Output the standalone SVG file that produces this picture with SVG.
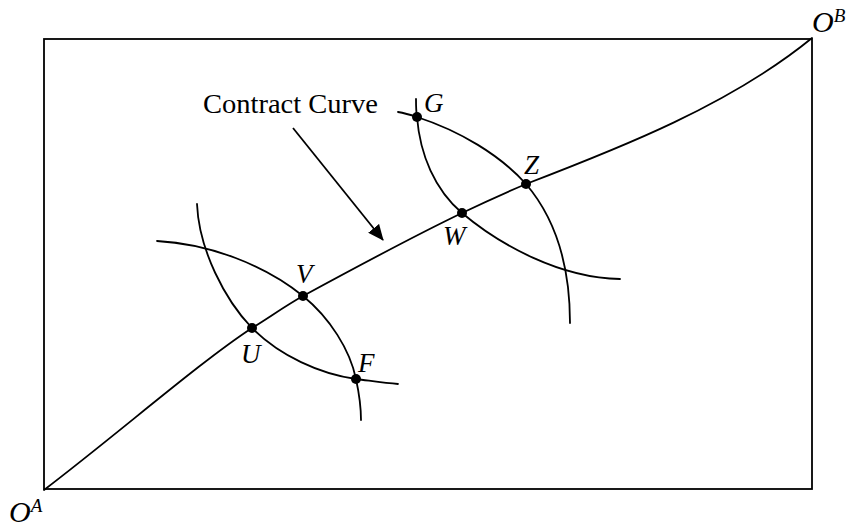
<svg xmlns="http://www.w3.org/2000/svg" width="850" height="529" viewBox="0 0 850 529">
<style>
.ln{fill:none;stroke:#000;stroke-width:1.8;stroke-linecap:round;stroke-linejoin:round}
.lbl{font-family:"Liberation Serif",serif;font-style:italic;font-size:27px;fill:#000}
.org{font-family:"Liberation Serif",serif;font-style:italic;font-size:30px;fill:#000}
.sup{font-size:19px}
.dot{fill:#000}
</style>
<defs>
<marker id="ah" markerWidth="16" markerHeight="14" refX="15" refY="7" orient="auto" markerUnits="userSpaceOnUse">
<path d="M0,0 L16,7 L0,14 Z" fill="#000"/>
</marker>
</defs>
<rect id="box" x="44" y="39" width="768" height="450" fill="none" stroke="#000" stroke-width="1.8"/>
<g id="connectors">
<path id="contract-curve" class="ln" d="M44,490 C120,432 200,362 252,328 C270,317 285,306 303,296 C360,265 410,238 462,213 C485,202 505,193 526,184 C620,148 730,105 812,38"/>
<path id="ic-a1" class="ln" d="M197,204 C199,250 225,300 252,328 C280,356 320,374 356,379 C372,381 385,383 398,384"/>
<path id="ic-b1" class="ln" d="M157,241 C210,244 265,265 303,296 C330,318 350,350 356,379 C359,393 361,405 361,420"/>
<path id="ic-a2" class="ln" stroke-width="2.1" d="M416,99 C416,105 416,111 417,117 C420,155 435,190 462,213 C500,245 560,278 620,279"/>
<path id="ic-b2" class="ln" d="M398,112 C404,113 411,115 417,117 C460,131 500,155 526,184 C555,218 570,265 570,323"/>
<line id="arrow" x1="293" y1="128" x2="383" y2="240" stroke="#000" stroke-width="1.8" marker-end="url(#ah)"/>
</g>
<g id="label-contract"><text x="203" y="113" font-family="'Liberation Serif',serif" font-size="28" textLength="175" lengthAdjust="spacingAndGlyphs">Contract Curve</text></g>
<g id="node-U"><circle class="dot" cx="252" cy="328" r="5"/><text class="lbl" x="241" y="363">U</text></g>
<g id="node-V"><circle class="dot" cx="303" cy="296" r="5"/><text class="lbl" x="296" y="283">V</text></g>
<g id="node-F"><circle class="dot" cx="356" cy="379" r="5"/><text class="lbl" x="358" y="372">F</text></g>
<g id="node-G"><circle class="dot" cx="417" cy="117" r="5"/><text class="lbl" x="424" y="112">G</text></g>
<g id="node-W"><circle class="dot" cx="462" cy="213" r="5"/><text class="lbl" x="443" y="245">W</text></g>
<g id="node-Z"><circle class="dot" cx="526" cy="184" r="5"/><text class="lbl" x="524" y="174">Z</text></g>
<g id="origin-A"><text class="org" x="9" y="522">O<tspan class="sup" dy="-10">A</tspan></text></g>
<g id="origin-B"><text class="org" x="812" y="32">O<tspan class="sup" dy="-10">B</tspan></text></g>
</svg>
